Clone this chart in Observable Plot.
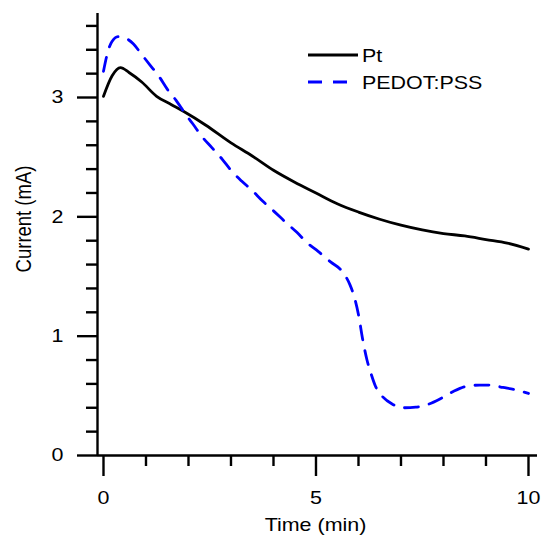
<!DOCTYPE html>
<html><head><meta charset="utf-8">
<script src="https://cdn.jsdelivr.net/npm/d3@7"></script>
<script src="https://cdn.jsdelivr.net/npm/@observablehq/plot@0.6"></script>
<style>
body{margin:0;background:#fff;}
#chart{width:542px;height:536px;}
</style></head><body><div id="chart"></div>
<script>
// ---- data ----
const seriesNames = ["Pt", "PEDOT:PSS"];
const ptTime    = [0, 0.2, 0.4, 0.6, 0.9, 1.25, 1.6, 1.9, 2.4, 3.0, 3.5, 4.0, 4.5, 5.0, 5.5, 6.0, 6.5, 7.0, 7.5, 8.0, 8.5, 9.0, 9.5, 10.0];
const ptCurrent = [3.01, 3.18, 3.25, 3.21, 3.13, 3.01, 2.94, 2.88, 2.77, 2.62, 2.51, 2.39, 2.29, 2.20, 2.11, 2.04, 1.98, 1.93, 1.89, 1.86, 1.84, 1.81, 1.78, 1.73];
const pedotTime    = [0, 0.1, 0.2, 0.35, 0.5, 0.7, 0.9, 1.1, 1.3, 1.5, 1.7, 1.95, 2.1, 2.3, 2.55, 2.8, 3.0, 3.25, 3.5, 3.75, 4.0, 4.3, 4.55, 4.8, 5.05, 5.35, 5.6, 5.7, 5.8, 5.9, 6.0, 6.1, 6.2, 6.3, 6.4, 6.55, 6.8, 7.05, 7.35, 7.65, 7.95, 8.25, 8.55, 8.85, 9.1, 9.4, 9.7, 10.0];
const pedotCurrent = [3.22, 3.38, 3.47, 3.51, 3.50, 3.45, 3.36, 3.27, 3.18, 3.07, 2.98, 2.85, 2.78, 2.68, 2.58, 2.48, 2.39, 2.30, 2.22, 2.13, 2.05, 1.95, 1.87, 1.78, 1.71, 1.62, 1.55, 1.50, 1.43, 1.33, 1.18, 0.97, 0.80, 0.68, 0.58, 0.50, 0.43, 0.40, 0.405, 0.43, 0.48, 0.54, 0.58, 0.59, 0.59, 0.57, 0.55, 0.52];
const xMajorTicks = [0, 5, 10];
const xMinorTicks = [1, 2, 3, 4, 6, 7, 8, 9];
const yMajorTicks = [0, 1, 2, 3];
const yMinorTicks = [0.2, 0.4, 0.6, 0.8, 1.2, 1.4, 1.6, 1.8, 2.2, 2.4, 2.6, 2.8, 3.2, 3.4, 3.6];
const xLabel = "Time (min)";
const yLabel = "Current (mA)";
const xDomain = [-0.141, 10.212];
const yDomain = [0, 3.704];

// ---- build ----
const pt = ptTime.map((t, i) => ({t, c: ptCurrent[i]}));
const pedot = pedotTime.map((t, i) => ({t, c: pedotCurrent[i]}));
const FONT = "'Liberation Sans', Arial, sans-serif";
const FS = 18.5, SX = 1.16;
const AX = 2.4;

const plot = Plot.plot({
  width: 542, height: 536,
  marginLeft: 97, marginRight: 5, marginTop: 13, marginBottom: 81,
  style: {fontFamily: FONT, fontSize: FS + "px", color: "#000", background: "#fff"},
  x: {domain: xDomain},
  y: {domain: yDomain},
  marks: [
    Plot.axisX(xMajorTicks, {tickSize: 21, tickPadding: 14, strokeWidth: AX, label: null, fontSize: FS, tickFormat: d3.format("d")}),
    Plot.axisX(xMinorTicks, {tickSize: 11, tickFormat: () => "", strokeWidth: AX, label: null}),
    Plot.axisY(yMajorTicks, {tickSize: 20, tickPadding: 14, strokeWidth: AX, label: null, fontSize: FS, tickFormat: d3.format("d")}),
    Plot.axisY(yMinorTicks, {tickSize: 11, tickFormat: () => "", strokeWidth: AX, label: null}),
    Plot.ruleY([yDomain[0]], {strokeWidth: AX}),
    Plot.ruleX([xDomain[0]], {strokeWidth: AX}),
    Plot.line(pt, {x: "t", y: "c", stroke: "#000", strokeWidth: 2.8, curve: "monotone-x"}),
    Plot.line(pedot, {x: "t", y: "c", stroke: "#0000ff", strokeWidth: 2.8, strokeDasharray: "14,11", curve: "monotone-x"})
  ]
});
document.getElementById("chart").appendChild(plot);

const svg = d3.select(plot);
// horizontally stretch tick label glyphs about their anchor
svg.selectAll("text").each(function() {
  const el = d3.select(this);
  const t = el.attr("transform") || "";
  const x = parseFloat(el.attr("x")) || 0;
  if (x) el.attr("x", null);
  el.attr("transform", `${t} translate(${x},0) scale(${SX},1)`);
});

// axis titles
svg.append("text").attr("font-family", FONT).attr("font-size", FS).attr("fill", "#000")
  .attr("text-anchor", "middle")
  .attr("transform", `translate(315.5,531) scale(${SX},1)`).text(xLabel);
svg.append("text").attr("font-family", FONT).attr("font-size", FS).attr("fill", "#000")
  .attr("text-anchor", "middle")
  .attr("transform", `translate(31,219) rotate(-90) scale(1,${SX})`).text(yLabel);

// legend
const lg = svg.append("g");
const styles = [{stroke: "#000", dash: null}, {stroke: "#0000ff", dash: "14,11"}];
seriesNames.forEach((name, i) => {
  const yy = 55 + i * 27;
  lg.append("line").attr("x1", 308).attr("x2", 358).attr("y1", yy).attr("y2", yy)
    .attr("stroke", styles[i].stroke).attr("stroke-width", 2.8)
    .attr("stroke-dasharray", styles[i].dash);
  lg.append("text").attr("font-family", FONT).attr("font-size", FS).attr("fill", "#000")
    .attr("text-anchor", "start")
    .attr("transform", `translate(362,${yy + 6.5}) scale(${SX},1)`).text(name);
});
</script></body></html>
